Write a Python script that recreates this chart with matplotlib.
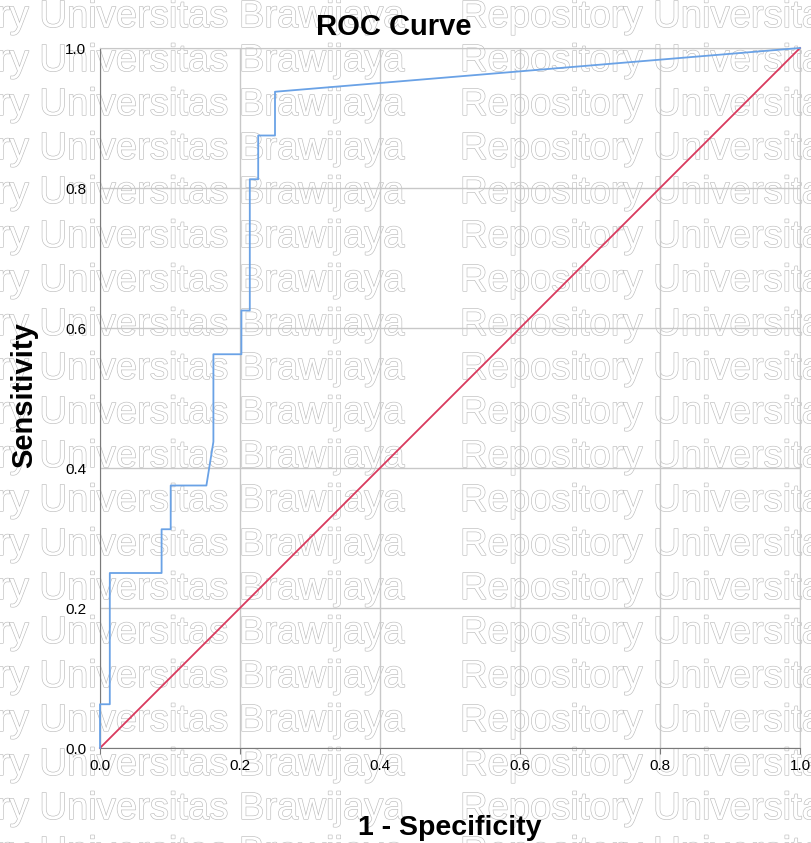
import matplotlib
matplotlib.use("Agg")
import matplotlib.pyplot as plt
import matplotlib.patheffects as pe

plt.rcParams['font.family'] = ['Liberation Sans', 'DejaVu Sans']

# ROC curve data (1 - specificity, sensitivity)
fpr = [0.0, 0.0, 0.014, 0.014, 0.088, 0.088, 0.101, 0.101, 0.152, 0.162, 0.162,
       0.202, 0.202, 0.214, 0.214, 0.226, 0.226, 0.25, 0.25, 1.0]
tpr = [0.0, 0.0625, 0.0625, 0.25, 0.25, 0.3125, 0.3125, 0.375, 0.375, 0.4375, 0.5625,
       0.5625, 0.625, 0.625, 0.8125, 0.8125, 0.875, 0.875, 0.9375, 1.0]
ref_x = [0.0, 1.0]
ref_y = [0.0, 1.0]
ticks = [0.0, 0.2, 0.4, 0.6, 0.8, 1.0]
tick_labels = ["0.0", "0.2", "0.4", "0.6", "0.8", "1.0"]
watermark_left = "ry Universitas Brawijaya"
watermark_right = "Repository Universitas"

W, H = 811, 843
fig = plt.figure(figsize=(W / 100, H / 100), dpi=100)

# watermark rows (hollow light-gray text)
wm_fx = [pe.withStroke(linewidth=0.9, foreground='#bdbdbd')]
for i in range(20):
    yb = 1 - (27 + i * 44) / H
    fig.text(-3 / W, yb, watermark_left, fontsize=27.5, color='white',
             va='baseline', ha='left', zorder=-1, path_effects=wm_fx)
    fig.text(460 / W, yb, watermark_right, fontsize=27.5, color='white',
             va='baseline', ha='left', zorder=-1, path_effects=wm_fx)

ax = fig.add_axes([100 / W, (H - 748) / H, 700 / W, 700 / H])
ax.set_facecolor('none')
ax.set_xlim(0, 1)
ax.set_ylim(0, 1)
ax.set_xticks(ticks)
ax.set_yticks(ticks)
ax.set_xticklabels(tick_labels)
ax.set_yticklabels(tick_labels)
ax.grid(True, color='#c8c8c8', linewidth=1.0)
ax.set_axisbelow(True)
for s in ['top', 'right']:
    ax.spines[s].set_color('#c8c8c8')
for s in ['left', 'bottom']:
    ax.spines[s].set_color('#7a7a7a')
ax.tick_params(axis='x', length=4, color='#7a7a7a', labelsize=11, pad=4)
ax.tick_params(axis='y', length=0, labelsize=11, pad=10)

ax.plot(ref_x, ref_y, color='#d93a5e', linewidth=1.3, zorder=3, clip_on=False)
ax.plot(fpr, tpr, color='#6aa2e6', linewidth=1.3, zorder=4, clip_on=False)

fig.text(394 / W, 1 - 35 / H, "ROC Curve", fontsize=21, fontweight='bold',
         ha='center', va='baseline')
fig.text(450 / W, 1 - 835 / H, "1 - Specificity", fontsize=20.5, fontweight='bold',
         ha='center', va='baseline')
fig.text(24 / W, 1 - 395 / H, "Sensitivity", fontsize=21, fontweight='bold',
         ha='center', va='center', rotation=90)

fig.savefig("out.png", dpi=100)
